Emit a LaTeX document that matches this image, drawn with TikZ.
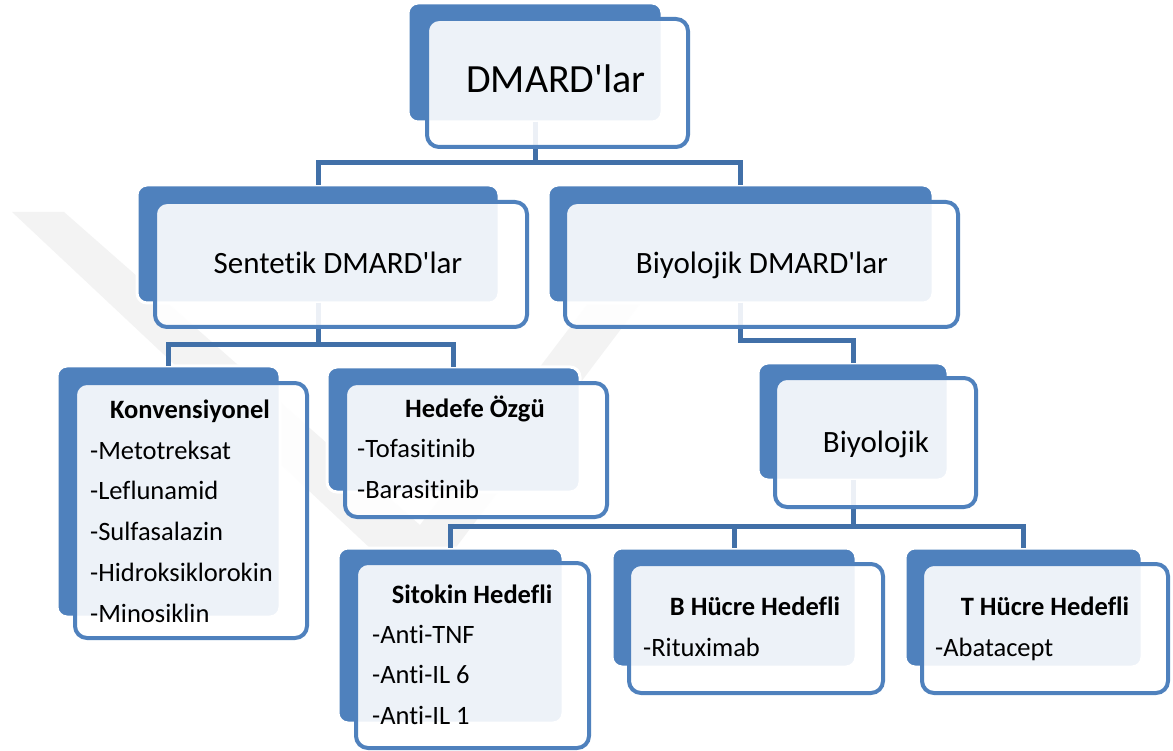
\documentclass[tikz,border=0pt]{standalone}
\usepackage{fontspec}
\setmainfont{Carlito}[Ligatures={NoCommon}]
\definecolor{bx}{HTML}{4F81BD}
\definecolor{cn}{HTML}{4170A8}
\definecolor{wmk}{HTML}{F3F3F3}
\tikzset{
  backbox/.style={fill=bx, draw=white, line width=3pt, rounded corners=10pt, inner sep=0pt, outer sep=0pt},
  frontbox/.style={fill=white, fill opacity=0.9, draw=bx, draw opacity=1, line width=4pt, rounded corners=12pt, inner sep=0pt, outer sep=0pt},
  conn/.style={draw=cn, line width=5pt},
  bigtxt/.style={font=\fontsize{40}{48}\selectfont, anchor=base, inner sep=0pt},
  lvltxt/.style={font=\fontsize{31}{38}\selectfont, anchor=base, inner sep=0pt},
  ttl/.style={font=\bfseries\fontsize{26.5}{32}\selectfont, anchor=base, inner sep=0pt},
  item/.style={font=\fontsize{26.5}{32}\selectfont, anchor=base west, inner sep=0pt},
  wm/.style={fill=wmk, draw=none}
}
\newcommand\backrect[5]{\node[backbox, minimum width={(#4)-(#2)}, minimum height={(#5)-(#3)}] (#1) at ({((#2)+(#4))/2},{((#3)+(#5))/2}) {};}
\newcommand\frontrect[5]{\node[frontbox, minimum width={(#4)-(#2)}, minimum height={(#5)-(#3)}] (#1) at ({((#2)+(#4))/2},{((#3)+(#5))/2}) {};}
\newcommand\ap{\textquotesingle}
\begin{document}
\begin{tikzpicture}[x=1pt, y=-1pt]
\useasboundingbox (0,0) rectangle (1173,751);
\fill[white] (0,0) rectangle (1173,751);
% watermark
\fill[wm] (12,212) -- (64,212) -- (420,525) -- (640,235) -- (692,235) -- (420,595) -- cycle;
% back boxes
\backrect{dm}{408}{3}{662}{122}
\backrect{sd}{137}{185}{499}{303}
\backrect{bd}{548}{185}{933}{303}
\backrect{kv}{57}{366}{280}{617}
\backrect{hz}{327}{367}{580}{492}
\backrect{bl}{758}{363}{948}{480}
\backrect{sh}{338}{548}{563}{723}
\backrect{bh}{612}{548}{856}{667}
\backrect{th}{905}{548}{1142}{667}
% connectors
\coordinate (j1) at (535,163);
\coordinate (j2) at (318,345);
\coordinate (j3) at (740.5,341);
\coordinate (j4) at (853,526);
\draw[conn] (dm.south) -- (j1) -| (sd.north);
\draw[conn] (j1) -| (bd.north);
\draw[conn] (sd.south) -- (j2) -| (kv.north);
\draw[conn] (j2) -| (hz.north);
\draw[conn] (bd.south) -- (j3) -| (bl.north);
\draw[conn] (bl.south) -- (j4) -| (sh.north);
\draw[conn] (j4) -| (bh.north);
\draw[conn] (j4) -| (th.north);
% front boxes
\frontrect{dmf}{427}{19}{688}{147}
\frontrect{sdf}{155}{202}{527}{327}
\frontrect{bdf}{565}{202}{958}{327}
\frontrect{kvf}{75}{383}{307}{638}
\frontrect{hzf}{345}{383}{607}{517}
\frontrect{blf}{775}{378}{976}{507}
\frontrect{shf}{356}{563}{589}{748}
\frontrect{bhf}{629}{564}{883}{693}
\frontrect{thf}{922}{564}{1168}{693}
% texts
\node[bigtxt] (tdm) at (556,93) {DMARD\ap lar};
\node[lvltxt] (tsd) at (338,274) {Sentetik DMARD\ap lar};
\node[lvltxt] (tbd) at (762,274) {Biyolojik DMARD\ap lar};
\node[lvltxt] (tbl) at (876,452) {Biyolojik};
\node[ttl] (tkv) at (190,418) {Konvensiyonel};
\node[item] (kv1) at (90,459) {-Metotreksat};
\node[item] (kv2) at (90,499) {-Leflunamid};
\node[item] (kv3) at (90,540) {-Sulfasalazin};
\node[item] (kv4) at (90,581) {-Hidroksiklorokin};
\node[item] (kv5) at (90,622) {-Minosiklin};
\node[ttl] (thz) at (475,417) {Hedefe Özgü};
\node[item] (hz1) at (357,457) {-Tofasitinib};
\node[item] (hz2) at (357,498) {-Barasitinib};
\node[ttl] (tsh) at (472,603) {Sitokin Hedefli};
\node[item] (sh1) at (372,643) {-Anti-TNF};
\node[item] (sh2) at (372,683) {-Anti-IL 6};
\node[item] (sh3) at (372,724) {-Anti-IL 1};
\node[ttl] (tbh) at (755,615) {B Hücre Hedefli};
\node[item] (bh1) at (643,656) {-Rituximab};
\node[ttl] (tth) at (1045,615) {T Hücre Hedefli};
\node[item] (th1) at (935,656) {-Abatacept};
\end{tikzpicture}
\end{document}
